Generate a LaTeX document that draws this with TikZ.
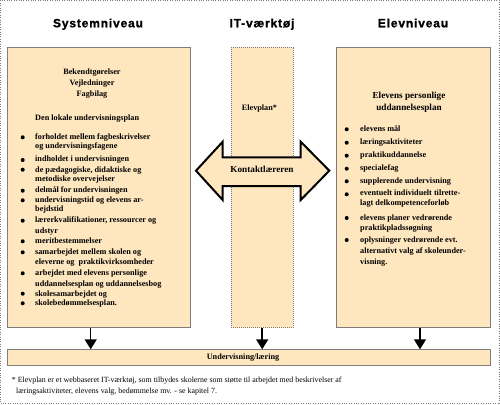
\documentclass[tikz,border=0pt]{standalone}
\usepackage{fontspec}
\setmainfont{Liberation Serif}
\newfontfamily\titlefont[LetterSpace=7, BoldFeatures={FakeBold=1.2}]{Liberation Sans}
\usetikzlibrary{arrows.meta}
\definecolor{beige}{RGB}{254,230,190}
\definecolor{edgegray}{RGB}{125,125,125}

\begin{document}
\begin{tikzpicture}[x=1pt, y=-1pt,
        box/.style={draw=edgegray, line width=1pt, fill=beige, anchor=north west, inner sep=0pt},
        title/.style={anchor=base, inner sep=0pt, font=\titlefont\fontsize{12}{12}\selectfont\bfseries},
        txt/.style={anchor=west, inner sep=0pt, text height=5.5pt, text depth=1.5pt,
            font=\fontsize{8.2}{9}\selectfont\bfseries},
        head/.style={txt, anchor=center, font=\fontsize{9.2}{10}\selectfont\bfseries},
        note/.style={txt, font=\fontsize{7.9}{8}\selectfont},
        flow/.style={line width=1.5pt, -{Triangle[width=12pt, length=10pt]}}]
    \useasboundingbox (0,0) rectangle (500,404);
    \draw[edgegray, dotted] (0.5,0.5) rectangle (499.5,403.5);

    % column titles
    \node[title] (systitle) at (98,27.3) {Systemniveau};
    \node[title] (ittitle) at (262,27.3) {IT-værktøj};
    \node[title] (eltitle) at (413,27.3) {Elevniveau};

    % boxes
    \node[box, minimum width=183pt, minimum height=280.3pt] (sys) at (7,46.7) {};
    \node[box, densely dotted, minimum width=62pt, minimum height=280.3pt] (it) at (230.7,46.7) {};
    \node[box, minimum width=154.3pt, minimum height=280.3pt] (elev) at (335.7,46.7) {};
    \node[box, minimum width=483pt, minimum height=15.7pt] (bar) at (7,349.3) {};
    \node[txt, anchor=center] (barlabel) at (243,357) {Undervisning/læring};

    % Systemniveau
    \node[txt, anchor=center] (bek) at (92,72.7) {Bekendtgørelser};
    \node[txt, anchor=center] (vej) at (92,83.3) {Vejledninger};
    \node[txt, anchor=center] (fag) at (92,94) {Fagbilag};
    \node[txt] (lokal) at (35,118.7) {Den lokale undervisningsplan};
    \foreach \y/\t [count=\i] in {137.3/{forholdet mellem fagbeskrivelser},
            146/{og undervisningsfagene},
            159.3/{indholdet i undervisningen},
            170/{de pædagogiske, didaktiske og},
            179.3/{metodiske overvejelser},
            190.7/{delmål for undervisningen},
            200.7/{undervisningstid og elevens ar-},
            209.3/{bejdstid},
            220.7/{lærerkvalifikationer, ressourcer og},
            231/{udstyr},
            241.3/{meritbestemmelser},
            252.3/{samarbejdet mellem skolen og},
            262.3/{eleverne og\ \ praktikvirksomheder},
            273.3/{arbejdet med elevens personlige},
            284/{uddannelsesplan og uddannelsesbog},
            294.7/{skolesamarbejdet og},
            303.3/{skolebedømmelsesplan.}}
        \node[txt] (sysline\i) at (35,\y) {\t};
    \foreach \y in {137.3,160,169.7,190.7,200.3,220.7,241.3,252.3,273.3,293.7,303.3}
        \fill (22.7,\y) circle (2);

    % IT-vaerktoej
    \node[txt] (elevplan) at (241.7,108.7) {Elevplan*};

    % Elevniveau
    \node[head] (plan1) at (409,96.7) {Elevens personlige};
    \node[head] (plan2) at (409,108.3) {uddannelsesplan};
    \foreach \y/\t [count=\i] in {129.3/{elevens mål},
            142.7/{læringsaktiviteter},
            155.7/{praktikuddannelse},
            168.7/{specialefag},
            181.3/{supplerende undervisning},
            193.7/{eventuelt individuelt tilrette-},
            203.3/{lagt delkompetenceforløb},
            218/{elevens planer vedrørende},
            228/{praktikpladssøgning},
            240/{oplysninger vedrørende evt.},
            251/{alternativt valg af skoleunder-},
            262.3/{visning.}}
        \node[txt] (elevline\i) at (360,\y) {\t};
    \foreach \y in {129.3,142.7,155.7,168.7,181.3,194.3,218,240}
        \fill (346.7,\y) circle (2);

    % Kontaktlaereren
    \draw[line width=2pt, fill=beige, line join=miter]
        (196,170.7) -- (222.7,141.7) -- (222.7,157.3) -- (300.7,157.3) -- (300.7,141.7)
        -- (329.3,170.7) -- (300.7,200) -- (300.7,186) -- (222.7,186) -- (222.7,200) -- cycle;
    \node[head] (kontakt) at (262,170.7) {Kontaktlæreren};

    % arrows down
    \coordinate (sysx) at (90.7,0);
    \coordinate (elevx) at (420,0);
    \draw[flow] (sys.south -| sysx) -- (bar.north -| sysx);
    \draw[flow] (it.south) -- (bar.north -| it.south);
    \draw[flow] (elev.south -| elevx) -- (bar.north -| elevx);

    % footnote
    \node[note] (note1) at (11.7,380.7) {* Elevplan er et webbaseret IT-værktøj, som tilbydes skolerne som støtte til arbejdet med beskrivelser af};
    \node[note] (note2) at (16,391) {læringsaktiviteter, elevens valg, bedømmelse mv. - se kapitel 7.};
\end{tikzpicture}
\end{document}
